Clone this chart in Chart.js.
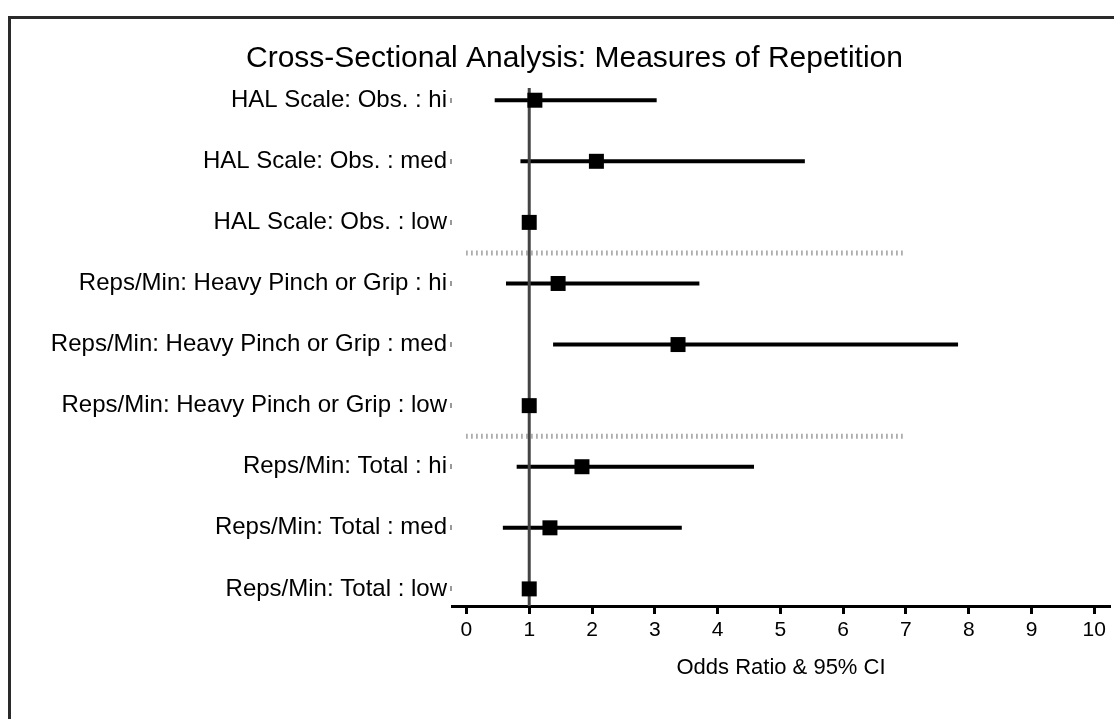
<!DOCTYPE html>
<html>
<head>
<meta charset="utf-8">
<title>Cross-Sectional Analysis: Measures of Repetition</title>
<script src="https://cdn.jsdelivr.net/npm/chart.js@4.4.1/dist/chart.umd.min.js"></script>
<style>
  html, body { margin: 0; padding: 0; background: #fff; }
  #wrap { position: relative; width: 1114px; height: 719px; overflow: hidden; }
  #frame { position: absolute; left: 8px; top: 16px; width: 1300px; height: 900px;
           border-left: 3px solid #2a2a2a; border-top: 3px solid #2a2a2a; }
  #c { position: absolute; left: 0; top: 0; }
</style>
</head>
<body>
<div id="wrap">
  <div id="frame"></div>
  <canvas id="c" width="1114" height="719"></canvas>
</div>
<script>
// Exposure categories, top to bottom
const categories = [
  'HAL Scale: Obs. : hi',
  'HAL Scale: Obs. : med',
  'HAL Scale: Obs. : low',
  'Reps/Min: Heavy Pinch or Grip : hi',
  'Reps/Min: Heavy Pinch or Grip : med',
  'Reps/Min: Heavy Pinch or Grip : low',
  'Reps/Min: Total : hi',
  'Reps/Min: Total : med',
  'Reps/Min: Total : low'
];

// Odds ratios and 95% confidence limits ("low" is the reference level)
const oddsRatio = [1.09, 2.07, 1, 1.46, 3.37, 1, 1.84, 1.33, 1];
const ciLower   = [0.45, 0.86, null, 0.63, 1.38, null, 0.80, 0.58, null];
const ciUpper   = [3.03, 5.39, null, 3.71, 7.83, null, 4.58, 3.43, null];

// Axis settings
const xTicks = [0, 1, 2, 3, 4, 5, 6, 7, 8, 9, 10];
const xRange = [-0.23, 10.25];
const yRange = [-0.2, 8.28];
const referenceOR = 1;

// Dotted separators between exposure groups
const groupBreaks = [2.5, 5.5];
const separatorSpan = [0, 7];

const FONT = "'Liberation Sans', Arial, Helvetica, sans-serif";

const datasets = [];

// point estimates
datasets.push({
  label: 'Odds Ratio',
  data: oddsRatio.map((v, i) => ({ x: v, y: i })),
  pointStyle: 'rect',
  pointRadius: 10.6,
  backgroundColor: '#000',
  borderWidth: 0,
  showLine: false,
  order: 0
});

// reference line at OR = 1
datasets.push({
  label: 'Reference',
  data: [{ x: referenceOR, y: yRange[0] }, { x: referenceOR, y: yRange[1] }],
  borderColor: '#444',
  borderWidth: 3,
  pointRadius: 0,
  showLine: true,
  order: 1
});

// group separators
groupBreaks.forEach(b => {
  datasets.push({
    label: 'Separator',
    data: [{ x: separatorSpan[0], y: b }, { x: separatorSpan[1], y: b }],
    borderColor: '#6e6e6e',
    borderWidth: 5,
    borderDash: [1, 4],
    borderCapStyle: 'butt',
    pointRadius: 0,
    showLine: true,
    order: 2
  });
});

// confidence intervals
categories.forEach((c, i) => {
  if (ciLower[i] === null) return;
  datasets.push({
    label: c,
    data: [{ x: ciLower[i], y: i }, { x: ciUpper[i], y: i }],
    borderColor: '#000',
    borderWidth: 4,
    borderCapStyle: 'butt',
    pointRadius: 0,
    showLine: true,
    order: 3
  });
});

new Chart(document.getElementById('c'), {
  type: 'scatter',
  data: { datasets },
  options: {
    responsive: false,
    animation: false,
    events: [],
    layout: { padding: { left: 39, right: 4, top: 0, bottom: 0 }, autoPadding: false },
    plugins: {
      legend: { display: false },
      tooltip: { enabled: false },
      title: {
        display: true,
        text: 'Cross-Sectional Analysis: Measures of Repetition',
        color: '#000',
        font: { family: FONT, size: 30, weight: 'normal', lineHeight: 1.2 },
        padding: { top: 41, bottom: 11 }
      }
    },
    scales: {
      x: {
        type: 'linear',
        min: xRange[0],
        max: xRange[1],
        afterBuildTicks: s => { s.ticks = xTicks.map(v => ({ value: v })); },
        afterFit: s => { s.height = 113; },
        ticks: {
          color: '#000',
          font: { family: FONT, size: 21 },
          padding: 4,
          autoSkip: false,
          maxRotation: 0
        },
        grid: { drawOnChartArea: false, drawTicks: true, tickLength: 8, tickWidth: 3, tickColor: '#000' },
        border: { display: true, color: '#000', width: 3 },
        title: {
          display: true,
          text: 'Odds Ratio & 95% CI',
          color: '#000',
          font: { family: FONT, size: 22 },
          padding: { top: 0, bottom: 38 }
        }
      },
      y: {
        type: 'linear',
        reverse: true,
        min: yRange[0],
        max: yRange[1],
        afterBuildTicks: s => { s.ticks = categories.map((_, i) => ({ value: i })); },
        afterFit: s => { s.width = 413; },
        ticks: {
          color: '#000',
          font: { family: FONT, size: 24, lineHeight: 1 },
          padding: 3,
          autoSkip: false,
          callback: v => categories[v]
        },
        grid: { drawOnChartArea: false, drawTicks: true, tickLength: 2, tickWidth: 5, tickColor: '#9a9a9a' },
        border: { display: false }
      }
    }
  }
});
</script>
</body>
</html>
